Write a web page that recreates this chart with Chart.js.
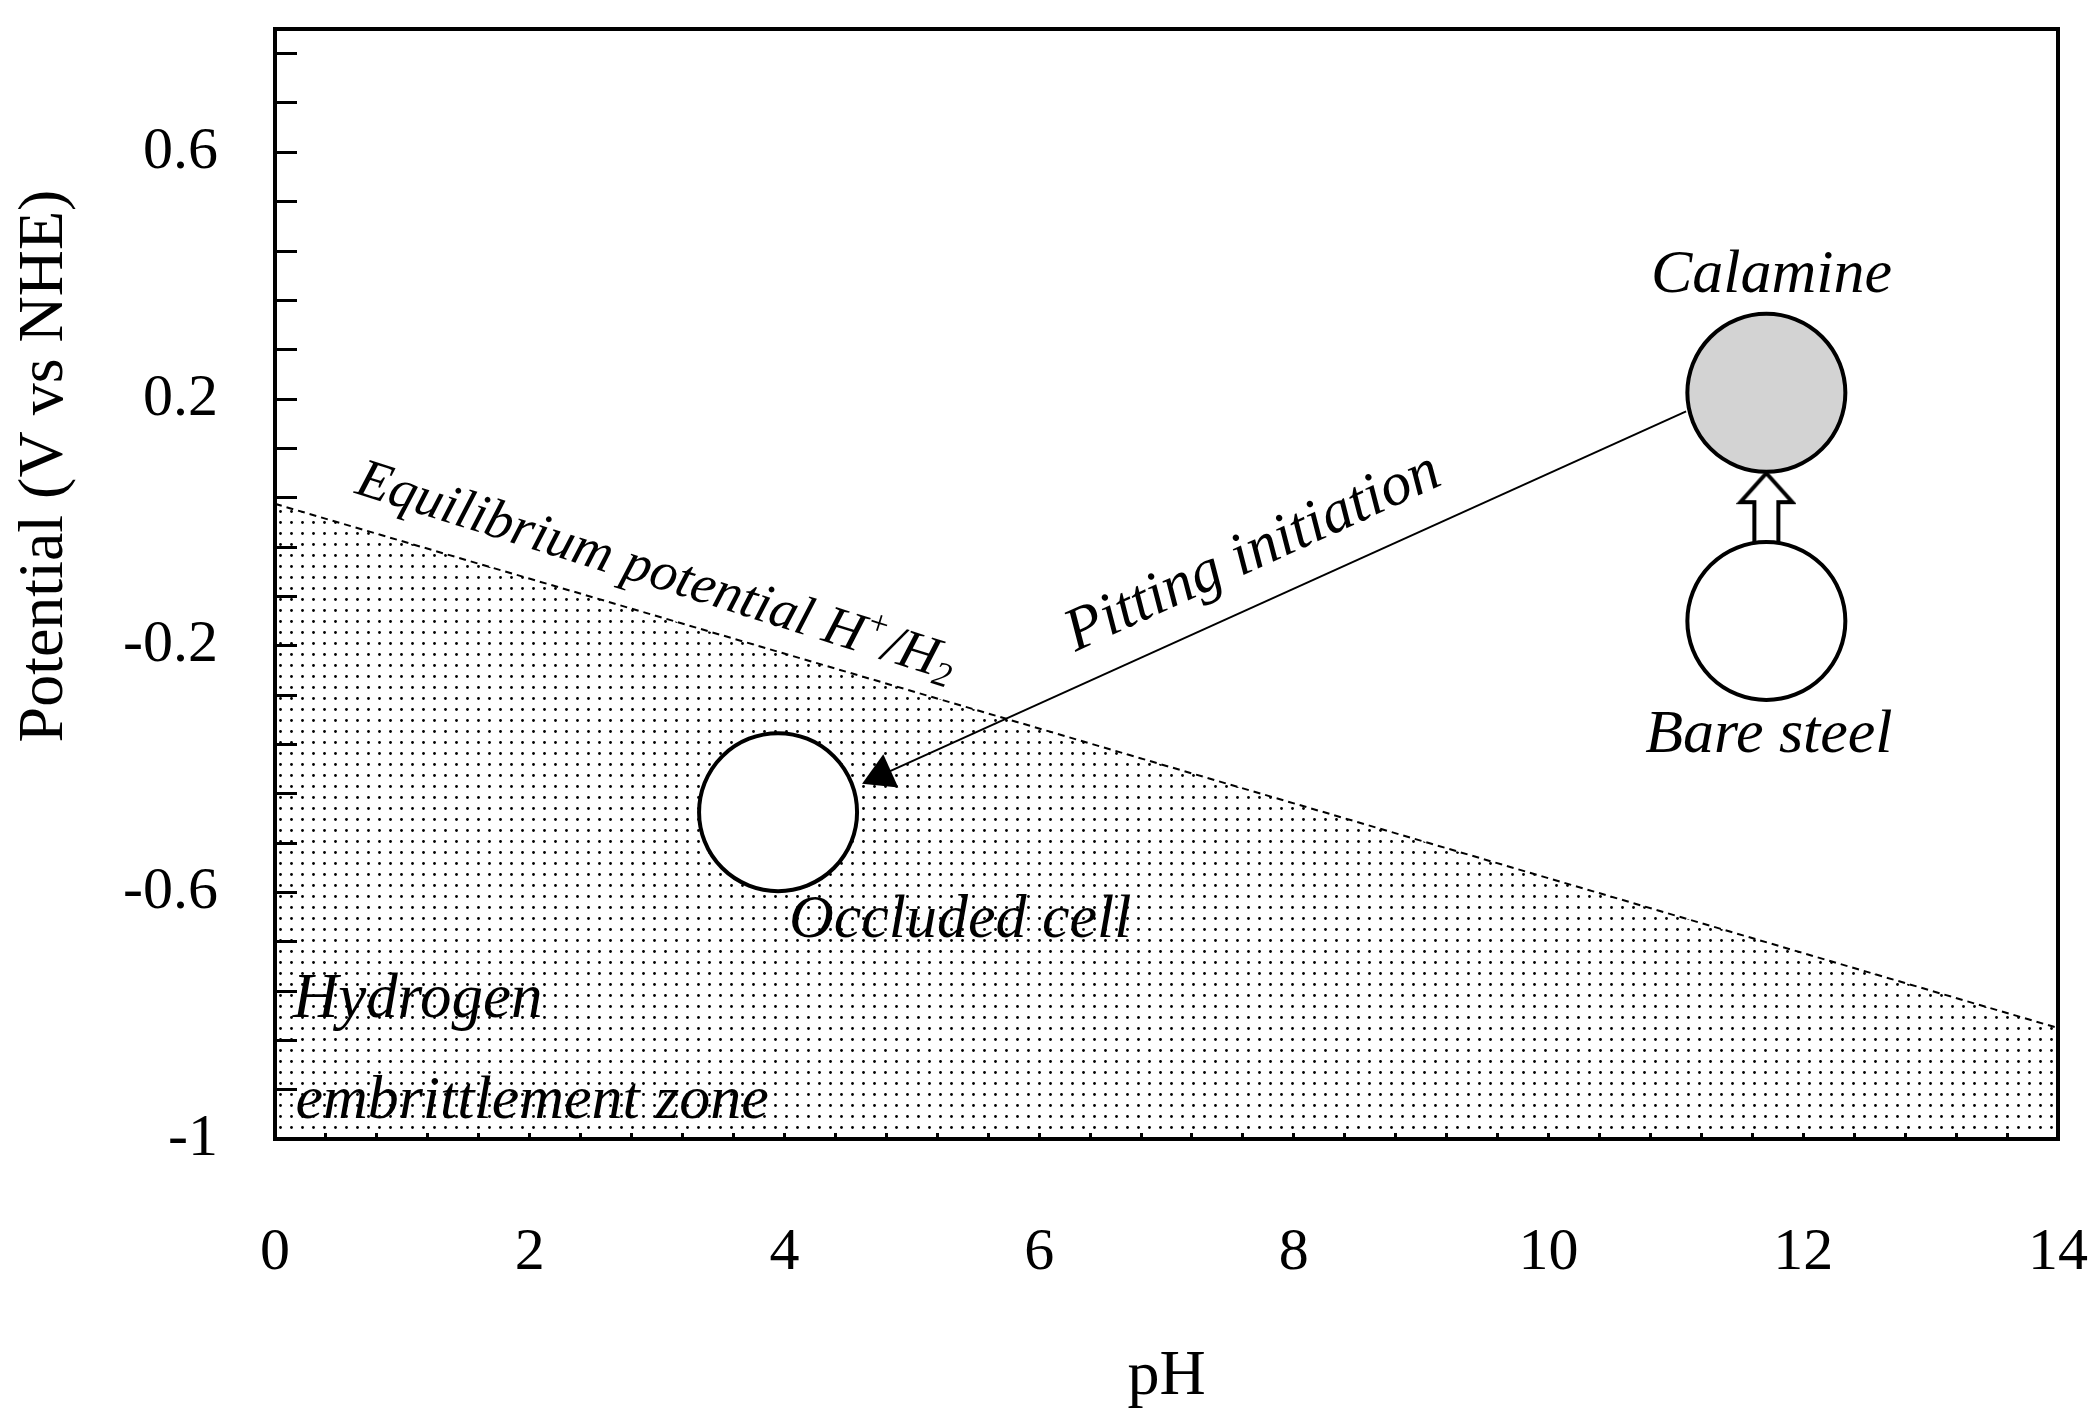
<!DOCTYPE html>
<html>
<head>
<meta charset="utf-8">
<title>Potential - pH</title>
<script src="https://cdn.jsdelivr.net/npm/chart.js@4.4.1/dist/chart.umd.min.js"></script>
<style>
  html, body { margin: 0; padding: 0; background: #fff; }
  #wrap { width: 2100px; height: 1416px; }
</style>
</head>
<body>
<div id="wrap"><canvas id="potentialChart"></canvas></div>
<script>
// equilibrium potential H+/H2 (dashed line, dotted zone under it)
const boundaryPH = [0, 14];
const boundaryE = [0.03, -0.82];

// surface states: calamine, bare steel, occluded cell
const sitePH = [11.71, 11.71, 3.95];
const siteE = [0.21, -0.16, -0.47];

// pitting initiation arrow, from calamine down to the occluded cell
const pittingPH = [11.08, 4.76];
const pittingE = [0.18, -0.41];

// bare steel -> calamine (hollow arrow)
const scalingPH = [11.71];
const scalingE = [0.023];

// axis ticks
const xMajorTicks = [0, 2, 4, 6, 8, 10, 12, 14];
const xTickLabels = ["0", "2", "4", "6", "8", "10", "12", "14"];
const xMinorStep = 0.4;
const yMajorTicks = [0.6, 0.2, -0.2, -0.6, -1];
const yTickLabels = ["0.6", "0.2", "-0.2", "-0.6", "-1"];
const yMinorStep = 0.08;

// text notes on the plot
const noteTexts = ["Calamine", "Bare steel", "Occluded cell", "Pitting initiation", "Hydrogen", "embrittlement zone"];
const notePH = [11.75, 11.73, 5.38, 7.68, 0.14, 0.16];
const noteE = [0.40, -0.346, -0.646, -0.05, -0.775, -0.94];

// label of the dashed line, with sup / sub parts
const eqRuns = ["Equilibrium potential H", "+", "/H", "2"];
const eqShift = [0, 1, 0, -1];
const eqPH = 2.99;
const eqE = -0.082;

const FONT = '"Liberation Serif", "DejaVu Serif", serif';

// styles (kept apart from the values)
const noteStyle = [
  { size: 62, angle: 0, align: "center" },
  { size: 62, angle: 0, align: "center" },
  { size: 62, angle: 0, align: "center" },
  { size: 61, angle: -24.5, align: "center" },
  { size: 63, angle: 0, align: "left" },
  { size: 62, angle: 0, align: "left" }
];
const siteFill = ["#d3d3d3", "#ffffff", "#ffffff"];

function pairs(xs, ys) {
  return xs.map((x, i) => ({ x: x, y: ys[i] }));
}

function stepTicks(min, max, step) {
  const out = [];
  const n = Math.round((max - min) / step);
  for (let k = 0; k <= n; k++) out.push(Math.round((min + k * step) * 1000) / 1000);
  return out;
}
const xTickValues = stepTicks(0, 14, xMinorStep);
const yTickValues = stepTicks(-1, 0.76, yMinorStep);

function majorLabel(v, majors, labels) {
  const i = majors.findIndex(m => Math.abs(m - v) < 1e-6);
  return i < 0 ? "" : labels[i];
}

// dotted fill pattern
const dotTile = document.createElement("canvas");
dotTile.width = 11;
dotTile.height = 11;
const dctx = dotTile.getContext("2d");
dctx.fillStyle = "#000";
dctx.beginPath();
dctx.arc(5.5, 5.5, 1.4, 0, Math.PI * 2);
dctx.fill();
const dotPattern = dctx.createPattern(dotTile, "repeat");

// hollow up arrow used as point style
const upArrow = document.createElement("canvas");
upArrow.width = 60;
upArrow.height = 76;
const actx = upArrow.getContext("2d");
actx.lineWidth = 4;
actx.strokeStyle = "#000";
actx.fillStyle = "#fff";
actx.beginPath();
actx.moveTo(30, 3);
actx.lineTo(56, 32);
actx.lineTo(42, 32);
actx.lineTo(42, 74);
actx.lineTo(18, 74);
actx.lineTo(18, 32);
actx.lineTo(4, 32);
actx.closePath();
actx.fill();
actx.stroke();

const notesPlugin = {
  id: "notes",
  afterDatasetsDraw(chart) {
    const { ctx } = chart;
    const xs = chart.scales.x;
    const ys = chart.scales.y;
    ctx.save();
    ctx.fillStyle = "#000";
    ctx.textBaseline = "middle";
    noteTexts.forEach((t, i) => {
      const st = noteStyle[i];
      ctx.save();
      ctx.translate(xs.getPixelForValue(notePH[i]), ys.getPixelForValue(noteE[i]));
      ctx.rotate(st.angle * Math.PI / 180);
      ctx.font = "italic " + st.size + "px " + FONT;
      ctx.textAlign = st.align;
      ctx.fillText(t, 0, 0);
      ctx.restore();
    });

    // equilibrium label along the dashed line
    const big = 55, small = 35;
    ctx.save();
    ctx.translate(xs.getPixelForValue(eqPH), ys.getPixelForValue(eqE));
    ctx.rotate(17.5 * Math.PI / 180);
    ctx.textAlign = "left";
    let total = 0;
    eqRuns.forEach((r, i) => {
      ctx.font = "italic " + (eqShift[i] ? small : big) + "px " + FONT;
      total += ctx.measureText(r).width;
    });
    let cx = -total / 2;
    eqRuns.forEach((r, i) => {
      ctx.font = "italic " + (eqShift[i] ? small : big) + "px " + FONT;
      const dy = eqShift[i] > 0 ? -17 : (eqShift[i] < 0 ? 13 : 0);
      ctx.fillText(r, cx, dy);
      cx += ctx.measureText(r).width;
    });
    ctx.restore();
    ctx.restore();
  },
  afterDraw(chart) {
    const { ctx } = chart;
    ctx.save();
    ctx.translate(45, 466);
    ctx.rotate(-Math.PI / 2);
    ctx.font = "64px " + FONT;
    ctx.fillStyle = "#000";
    ctx.textAlign = "center";
    ctx.textBaseline = "middle";
    ctx.fillText("Potential (V vs NHE)", 0, 0);
    ctx.restore();
  }
};

const ctx = document.getElementById("potentialChart").getContext("2d");
new Chart(ctx, {
  type: "scatter",
  data: {
    datasets: [
      {
        label: "sites",
        data: pairs(sitePH, siteE),
        pointRadius: 79,
        pointBorderWidth: 4,
        pointBorderColor: "#000",
        pointBackgroundColor: siteFill,
        showLine: false
      },
      {
        label: "scaling",
        data: pairs(scalingPH, scalingE),
        pointStyle: upArrow,
        pointRadius: 10,
        showLine: false
      },
      {
        label: "pitting",
        data: pairs(pittingPH, pittingE),
        showLine: true,
        borderColor: "#000",
        borderWidth: 2,
        pointStyle: "triangle",
        pointRadius: [0, 21],
        pointBorderWidth: 0,
        pointBackgroundColor: "#000",
        pointRotation: (c) => {
          const ch = c.chart;
          const dx = ch.scales.x.getPixelForValue(pittingPH[1]) - ch.scales.x.getPixelForValue(pittingPH[0]);
          const dy = ch.scales.y.getPixelForValue(pittingE[1]) - ch.scales.y.getPixelForValue(pittingE[0]);
          return Math.atan2(dx, -dy) * 180 / Math.PI;
        }
      },
      {
        label: "H+/H2",
        data: pairs(boundaryPH, boundaryE),
        showLine: true,
        borderColor: "#000",
        borderWidth: 2,
        borderDash: [7, 5],
        pointRadius: 0,
        fill: "start",
        backgroundColor: dotPattern
      }
    ]
  },
  options: {
    responsive: true,
    maintainAspectRatio: false,
    devicePixelRatio: 1,
    animation: false,
    events: [],
    layout: { autoPadding: false, padding: { left: 0, right: 42, top: 29, bottom: 0 } },
    plugins: { legend: { display: false }, tooltip: { enabled: false } },
    scales: {
      x: {
        type: "linear",
        position: "bottom",
        min: 0,
        max: 14,
        afterBuildTicks: s => { s.ticks = xTickValues.map(v => ({ value: v })); },
        afterFit: s => { s.height = 277; s.paddingLeft = 0; s.paddingRight = 0; },
        grid: { display: true, drawOnChartArea: false, drawTicks: true, tickLength: -6, tickColor: "#000", tickWidth: 3 },
        border: { display: true, color: "#000", width: 4 },
        ticks: {
          autoSkip: false, maxRotation: 0, minRotation: 0, padding: 84, color: "#000",
          font: { family: FONT, size: 60 },
          callback: v => majorLabel(v, xMajorTicks, xTickLabels)
        },
        title: { display: true, text: "pH", color: "#000", font: { family: FONT, size: 64 }, padding: { top: 0, bottom: 0 } }
      },
      y: {
        type: "linear",
        position: "left",
        min: -1,
        max: 0.8,
        afterBuildTicks: s => { s.ticks = yTickValues.map(v => ({ value: v })); },
        afterFit: s => { s.width = 275; s.paddingTop = 0; s.paddingBottom = 0; },
        grid: { display: true, drawOnChartArea: false, drawTicks: true, tickLength: -22, tickColor: "#000", tickWidth: 3 },
        border: { display: true, color: "#000", width: 4 },
        ticks: {
          autoSkip: false, padding: 79, color: "#000",
          font: { family: FONT, size: 60 },
          callback: v => majorLabel(v, yMajorTicks, yTickLabels)
        }
      },
      xTop: {
        type: "linear",
        position: "top",
        min: 0,
        max: 14,
        afterFit: s => { s.height = 0; s.paddingLeft = 0; s.paddingRight = 0; },
        grid: { display: false },
        border: { display: true, color: "#000", width: 4 },
        ticks: { display: false }
      },
      yRight: {
        type: "linear",
        position: "right",
        min: -1,
        max: 0.8,
        afterFit: s => { s.width = 0; s.paddingTop = 0; s.paddingBottom = 0; },
        grid: { display: false },
        border: { display: true, color: "#000", width: 4 },
        ticks: { display: false }
      }
    }
  },
  plugins: [notesPlugin]
});
</script>
</body>
</html>
